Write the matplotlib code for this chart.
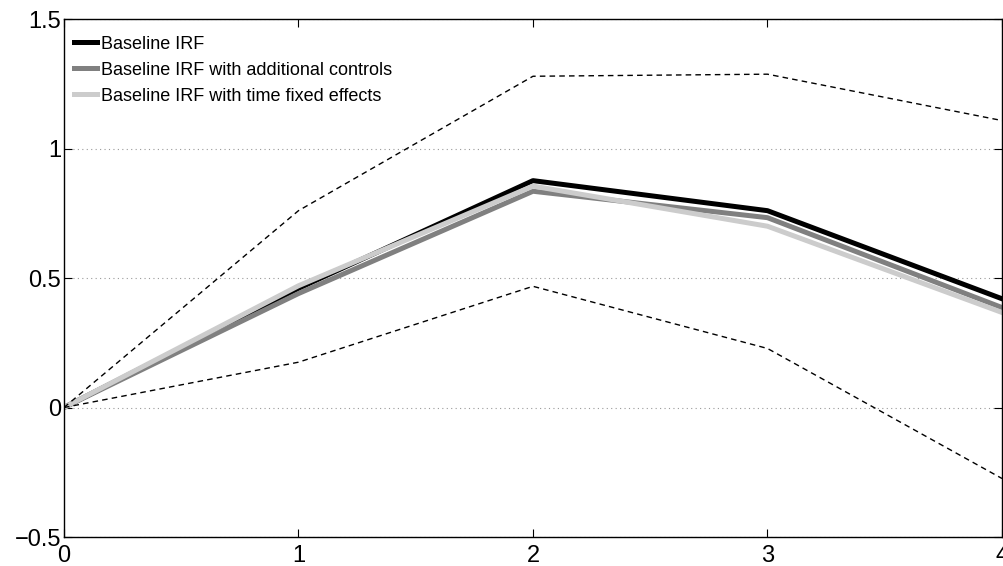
import matplotlib
matplotlib.use('Agg')
import matplotlib.pyplot as plt

plt.rcParams['font.family'] = ['Liberation Sans', 'DejaVu Sans']

# data
horizon = [0, 1, 2, 3, 4]
irf_base = [0.0, 0.46, 0.876, 0.76, 0.42]
irf_controls = [0.0, 0.44, 0.835, 0.733, 0.386]
irf_timefe = [0.0, 0.47, 0.855, 0.70, 0.367]
band_upper = [0.0, 0.76, 1.279, 1.287, 1.108]
band_lower = [0.0, 0.175, 0.468, 0.228, -0.274]

fig = plt.figure(figsize=(10.04, 5.66), dpi=100)
ax = fig.add_axes([0.0637, 0.0512, 0.9343, 0.9152])

ax.plot(horizon, irf_base, '-', color='black', linewidth=3.6, label='Baseline IRF')
ax.plot(horizon, irf_controls, '-', color=[0.5, 0.5, 0.5], linewidth=3.6,
        label='Baseline IRF with additional controls')
ax.plot(horizon, irf_timefe, '-', color=[0.8, 0.8, 0.8], linewidth=3.6,
        label='Baseline IRF with time fixed effects')
ax.plot(horizon, band_upper, '--', color='black', linewidth=1.0, dashes=(4, 3))
ax.plot(horizon, band_lower, '--', color='black', linewidth=1.0, dashes=(4, 3))

ax.set_xlim(0, 4)
ax.set_ylim(-0.5, 1.5)
ax.set_xticks([0, 1, 2, 3, 4])
ax.set_yticks([-0.5, 0, 0.5, 1, 1.5])
ax.set_yticklabels(['\u22120.5', '0', '0.5', '1', '1.5'])
ax.tick_params(direction='in', length=6, width=0.8, top=True, right=True,
               labelsize=17)
ax.tick_params(axis='y', pad=2)
ax.tick_params(axis='x', pad=6)
ax.yaxis.grid(True, linestyle=(0, (1, 3)), color=[0.6, 0.6, 0.6], linewidth=0.8)
ax.set_axisbelow(True)
for sp in ax.spines.values():
    sp.set_linewidth(1.0)

ax.legend(loc='upper left', frameon=False, fontsize=13, handlelength=1.3,
          handletextpad=0.2, labelspacing=0.5, borderaxespad=0.2,
          borderpad=0.2, bbox_to_anchor=(0.003, 0.982))

plt.savefig('out.png', dpi=100)
